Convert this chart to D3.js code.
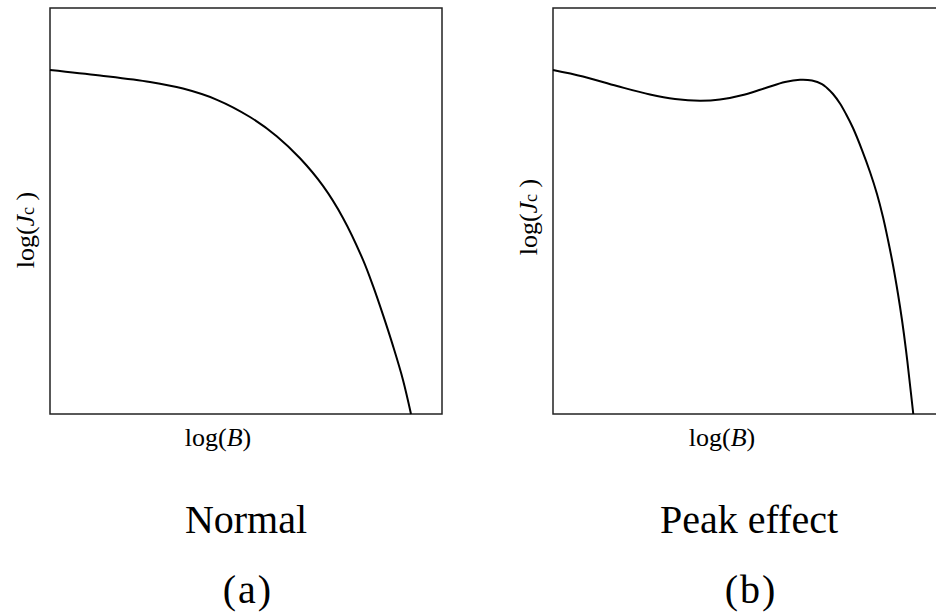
<!DOCTYPE html>
<html>
<head>
<meta charset="utf-8">
<script src="https://cdn.jsdelivr.net/npm/d3@7"></script>
<style>
  html, body { margin: 0; padding: 0; background: #fff; }
  svg { display: block; }
</style>
</head>
<body>
<svg id="chart" width="936" height="615"></svg>
<script>
// Critical current vs field, in normalised log units (0..1 across each frame)
const logB_normal  = [0, 0.1276, 0.2551, 0.3393, 0.4260, 0.5102, 0.5791, 0.6378, 0.6964, 0.7474, 0.7985, 0.8240, 0.8495, 0.8750, 0.9005, 0.9209];
const logJc_normal = [0.8473, 0.8337, 0.8177, 0.8015, 0.7739, 0.7315, 0.6837, 0.6298, 0.5618, 0.4830, 0.3796, 0.3155, 0.2441, 0.1677, 0.0840, 0];

const logB_peak  = [0, 0.0765, 0.1633, 0.2474, 0.3112, 0.3750, 0.4260, 0.4898, 0.5459, 0.5918, 0.6301, 0.6607, 0.6862, 0.6990,
                    0.7143, 0.7321, 0.7474, 0.7653, 0.7883, 0.8087, 0.8265, 0.8418, 0.8546, 0.8673, 0.8801, 0.8903, 0.9005, 0.9082, 0.9191];
const logJc_peak = [0.8473, 0.8313, 0.8079, 0.7869, 0.7759, 0.7717, 0.7746, 0.7869, 0.8042, 0.8177, 0.8232, 0.8214, 0.8128, 0.8030,
                    0.7882, 0.7648, 0.7389, 0.7044, 0.6502, 0.5961, 0.5419, 0.4852, 0.4286, 0.3670, 0.2956, 0.2315, 0.1576, 0.0936, 0];

const panelTitles = ["Normal", "Peak effect"];
const panelLetters = ["(a)", "(b)"];

const SERIF = "'Liberation Serif', 'Times New Roman', 'DejaVu Serif', serif";

const W = 392, H = 406;
const x = d3.scaleLinear().domain([0, 1]).range([0, W]);
const y = d3.scaleLinear().domain([0, 1]).range([H, 0]);

const svg = d3.select("#chart");

const panels = [
  { left: 50,  top: 8, xs: logB_normal, ys: logJc_normal, yLab: { dx: -16, cy: 222 }, xLab: { cx: 168 } },
  { left: 553, top: 8, xs: logB_peak,   ys: logJc_peak,   yLab: { dx: -16, cy: 209 }, xLab: { cx: 169 } }
];

const line = d3.line()
  .x(d => x(d[0]))
  .y(d => y(d[1]))
  .curve(d3.curveCatmullRom.alpha(0.5));

panels.forEach((p, i) => {
  const g = svg.append("g").attr("transform", `translate(${p.left},${p.top})`);

  // frame
  g.append("rect")
    .attr("x", x(0)).attr("y", y(1))
    .attr("width", x(1) - x(0)).attr("height", y(0) - y(1))
    .attr("fill", "none").attr("stroke", "#222").attr("stroke-width", 1.5);

  // curve
  g.append("path")
    .datum(d3.zip(p.xs, p.ys))
    .attr("d", line)
    .attr("fill", "none").attr("stroke", "#000").attr("stroke-width", 2);

  // x label: log(B)
  const xl = g.append("text")
    .attr("x", p.xLab.cx).attr("y", H + 32)
    .attr("text-anchor", "middle")
    .attr("font-family", SERIF)
    .attr("font-size", 26);
  xl.append("tspan").text("log(");
  xl.append("tspan").attr("font-style", "italic").text("B");
  xl.append("tspan").text(")");

  // y label: log(Jc )
  const yl = g.append("text")
    .attr("transform", `translate(${p.yLab.dx},${p.yLab.cy}) rotate(-90)`)
    .attr("text-anchor", "middle")
    .attr("font-family", SERIF)
    .attr("font-size", 26);
  yl.append("tspan").text("log(");
  yl.append("tspan").attr("font-style", "italic").text("J");
  yl.append("tspan").attr("font-size", 18).text("c");
  yl.append("tspan").text("\u00a0)");

  // panel title and letter
  g.append("text")
    .attr("x", W / 2).attr("y", 525)
    .attr("text-anchor", "middle")
    .attr("font-family", SERIF)
    .attr("font-size", 40)
    .text(panelTitles[i]);

  g.append("text")
    .attr("x", W / 2 + 2).attr("y", 595)
    .attr("text-anchor", "middle")
    .attr("font-family", SERIF)
    .attr("font-size", 40)
    .attr("letter-spacing", 2)
    .text(panelLetters[i]);
});
</script>
</body>
</html>
